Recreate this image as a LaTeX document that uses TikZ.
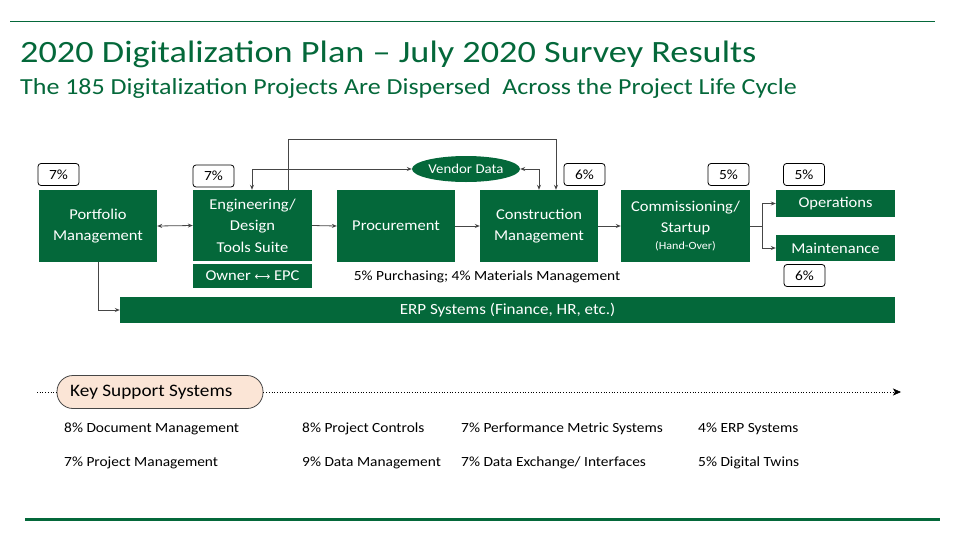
\documentclass[tikz,border=0pt]{standalone}
\usepackage{fontspec}
\setmainfont[FakeStretch=1.1]{Carlito}
\newfontfamily\titlefont[FakeStretch=1.17]{Carlito}
\newfontfamily\subfont[FakeStretch=1.13]{Carlito}
\newfontfamily\symfont{DejaVu Sans}
\usetikzlibrary{arrows.meta,calc,shapes.geometric}
\definecolor{dg}{RGB}{4,104,58}
\definecolor{ln}{RGB}{70,70,70}
\definecolor{peach}{RGB}{251,229,214}
\tikzset{
  gbox/.style={fill=dg,draw=none,text=white,align=center,inner sep=0pt,font=\fontsize{15}{21.5}\selectfont},
  pct/.style={draw=black,fill=white,rounded corners=3pt,line width=0.8pt,minimum width=41pt,minimum height=22pt,inner sep=0pt,font=\fontsize{14}{16}\selectfont},
  conn/.style={draw=ln,line width=0.8pt,-{Stealth[length=5pt,width=4pt]}},
  bconn/.style={draw=ln,line width=0.8pt,{Stealth[length=5pt,width=4pt]}-{Stealth[length=5pt,width=4pt]}},
  lst/.style={anchor=west,inner sep=0pt,font=\fontsize{14}{16}\selectfont}
}
\newcommand{\gb}[6]{\node[gbox,minimum width={#4-#2},minimum height={#5-#3}] (#1) at ({(#2+#4)/2},{(#3+#5)/2}) {#6};}
\begin{document}
\begin{tikzpicture}[x=1pt,y=-1pt]
\useasboundingbox (0,0) rectangle (955,541);
% rules
\draw[dg,line width=1pt] (10,21) -- (935,21);
\draw[dg,line width=3pt] (25,519) -- (940,519);
% titles
\node[anchor=base west,inner sep=0pt,text=dg,font=\titlefont\fontsize{31}{34}\selectfont] (title) at (20,62) {2020 Digitalization Plan – July 2020 Survey Results};
\node[anchor=base west,inner sep=0pt,text=dg,font=\subfont\fontsize{23}{26}\selectfont] (sub) at (20,94) {The 185 Digitalization Projects Are Dispersed\ \ Across the Project Life Cycle};
% boxes
\gb{pm}{39}{190}{157}{262}{Portfolio\\Management}
\gb{eng}{193}{190}{312}{261}{Engineering/\\Design\\Tools Suite}
\gb{own}{193}{264}{312}{288}{Owner {\symfont\fontsize{11}{12}\selectfont ⟷} EPC}
\gb{proc}{337}{190}{455}{262}{Procurement}
\gb{cons}{480}{190}{598}{262}{Construction\\Management}
\gb{comm}{621}{190}{750}{262}{Commissioning/\\Startup\\[-5pt]{\fontsize{11}{13}\selectfont(Hand-Over)}}
\gb{ops}{776}{190}{895}{217}{Operations}
\gb{mnt}{776}{235}{895}{261}{Maintenance}
\node[gbox,font=\fontsize{15.5}{17}\selectfont,minimum width=775pt,minimum height=26pt] (erp) at (507.5,310) {ERP Systems (Finance, HR, etc.)};
\node[ellipse,fill=dg,text=white,minimum width=108pt,minimum height=26pt,inner sep=0pt,font=\fontsize{13.5}{15}\selectfont] (vd) at (466,169) {Vendor Data};
% percent labels
\node[pct] (p1) at (58.5,174.5) {7\%};
\node[pct] (p2) at (213.5,176) {7\%};
\node[pct] (p3) at (584.5,174.5) {6\%};
\node[pct] (p4) at (728.5,174.5) {5\%};
\node[pct] (p5) at (804,174.5) {5\%};
\node[pct] (p6) at (804.5,275.5) {6\%};
\node[inner sep=0pt,font=\fontsize{14}{16}\selectfont] (purch) at (487,277) {5\% Purchasing; 4\% Materials Management};
% connectors
\draw[bconn] (pm.east) -- (eng.west);
\draw[conn] (eng.east) -- (proc.west);
\draw[conn] (proc.east) -- (cons.west);
\draw[conn] (cons.east) -- (comm.west);
\draw[conn] (comm.east) -- ++(12,0) |- (ops.west);
\draw[conn] (comm.east) -- ++(12,0) |- (mnt.west);
\draw[conn] (eng.north -| 288,0) |- (556,139) -- (cons.north -| 556,0);
\draw[bconn] (vd.west) -| (eng.north -| 252,0);
\draw[bconn] (vd.east) -| (cons.north -| 539,0);
\draw[conn] (pm.south -| 98,0) |- (erp.west |- 0,310);
% key support
\node[draw=ln,fill=peach,rounded corners=16pt,minimum width=206pt,minimum height=33pt,inner sep=0pt,line width=0.8pt] (ks) at (160,392) {};
\node[anchor=west,inner sep=0pt,font=\fontsize{17.5}{19}\selectfont] (kst) at (70,392) {Key Support Systems};
\draw[dotted,line width=0.7pt] (37,392) -- (ks.west);
\draw[dotted,line width=0.7pt,-{Stealth[length=8pt,width=7pt,inset=2pt]}] (ks.east) -- (901,392);
% lists
\node[lst] (l1) at (64,429) {8\% Document Management};
\node[lst] (l2) at (64,463) {7\% Project Management};
\node[lst] (l3) at (302,429) {8\% Project Controls};
\node[lst] (l4) at (302,463) {9\% Data Management};
\node[lst] (l5) at (461,429) {7\% Performance Metric Systems};
\node[lst] (l6) at (461,463) {7\% Data Exchange/ Interfaces};
\node[lst] (l7) at (698,429) {4\% ERP Systems};
\node[lst] (l8) at (698,463) {5\% Digital Twins};
\end{tikzpicture}
\end{document}
